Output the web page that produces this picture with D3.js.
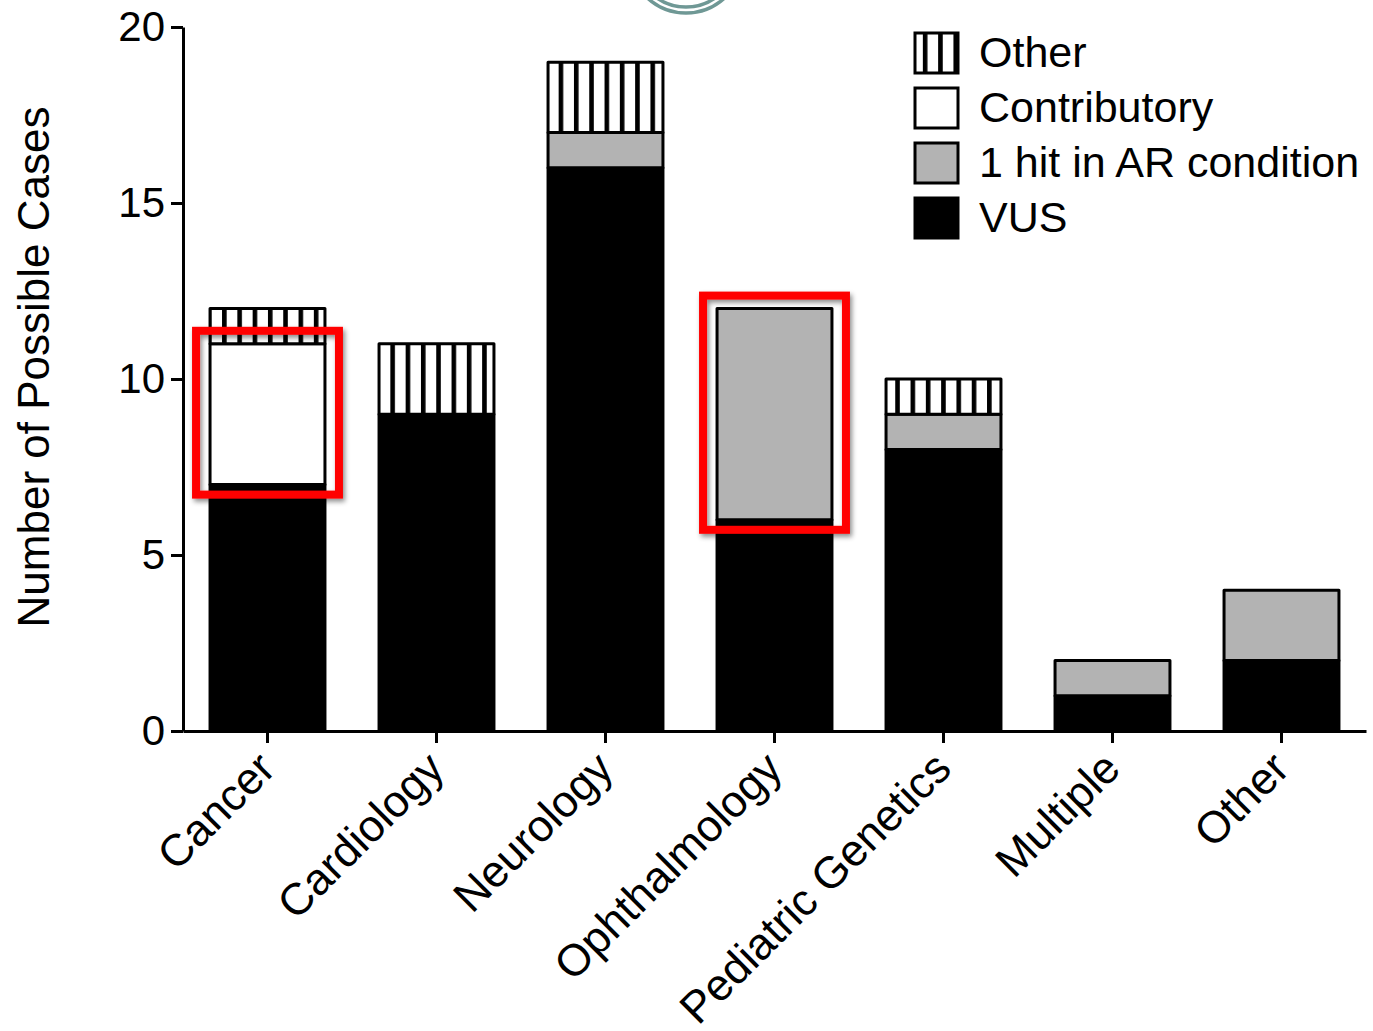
<!DOCTYPE html>
<html>
<head>
<meta charset="utf-8">
<script src="https://cdn.jsdelivr.net/npm/d3@7"></script>
<style>
  body { margin: 0; background: #fff; }
  svg { display: block; font-family: "Liberation Sans", Arial, Helvetica, sans-serif; }
</style>
</head>
<body>
<svg id="chart" width="1373" height="1031"></svg>
<script>
var categories = ["Cancer", "Cardiology", "Neurology", "Ophthalmology", "Pediatric Genetics", "Multiple", "Other"];
var vus = [7, 9, 16, 6, 8, 1, 2];
var arHit = [0, 0, 1, 6, 1, 1, 2];
var contributory = [4, 0, 0, 0, 0, 0, 0];
var other = [1, 2, 2, 0, 1, 0, 0];

var seriesKeys = ["vus", "arHit", "contributory", "other"];
var legendLabels = ["Other", "Contributory", "1 hit in AR condition", "VUS"];
var legendKeys = ["other", "contributory", "arHit", "vus"];
var yTicks = [0, 5, 10, 15, 20];

// red annotation boxes: category and the stacked range they enclose
var highlights = [
    {category: "Cancer", from: 7, to: 11},
    {category: "Ophthalmology", from: 6, to: 12}
];

var FONT = 43;

var svg = d3.select("#chart");

var rows = categories.map(function(c, i) {
    return {category: c, vus: vus[i], arHit: arHit[i], contributory: contributory[i], other: other[i]};
});

var x = d3.scaleBand()
    .domain(categories)
    .range([183, 1366])
    .paddingInner(0.32)
    .paddingOuter(0.16);

var y = d3.scaleLinear()
    .domain([0, 20])
    .range([731, 27]);

var fills = {
    vus: "#000",
    arHit: "#b3b3b3",
    contributory: "#fff",
    other: "url(#hatch)"
};

var defs = svg.append("defs");

// vertical hatch for "Other"
var pat = defs.append("pattern")
    .attr("id", "hatch")
    .attr("patternUnits", "userSpaceOnUse")
    .attr("x", x(categories[0]) + 12)
    .attr("y", 0)
    .attr("width", 15.3)
    .attr("height", 20);
pat.append("rect").attr("width", 15.3).attr("height", 20).attr("fill", "#fff");
pat.append("rect").attr("width", 4.6).attr("height", 20).attr("fill", "#000");

var shadow = defs.append("filter")
    .attr("id", "shadow")
    .attr("x", "-10%").attr("y", "-10%")
    .attr("width", "130%").attr("height", "130%");
shadow.append("feDropShadow")
    .attr("dx", 2).attr("dy", 3)
    .attr("stdDeviation", 2.5)
    .attr("flood-color", "#000")
    .attr("flood-opacity", 0.45);

// logo remnant at the top
var logo = svg.append("g").attr("fill", "none").attr("stroke", "#6f9895").attr("stroke-width", 3.5);
logo.append("circle").attr("cx", 686).attr("cy", -44).attr("r", 57);
logo.append("circle").attr("cx", 686).attr("cy", -44).attr("r", 51);

var stacked = d3.stack().keys(seriesKeys)(rows);

svg.append("g")
    .selectAll("g")
    .data(stacked)
    .join("g")
    .attr("fill", function(s) { return fills[s.key]; })
    .selectAll("rect")
    .data(function(s) { return s.filter(function(d) { return d[1] > d[0]; }); })
    .join("rect")
    .attr("x", function(d) { return x(d.data.category); })
    .attr("y", function(d) { return y(d[1]); })
    .attr("width", x.bandwidth())
    .attr("height", function(d) { return y(d[0]) - y(d[1]); })
    .attr("stroke", "#000")
    .attr("stroke-width", 3)
    .attr("stroke-linejoin", "round");

// axes
var yAxis = svg.append("g")
    .attr("transform", "translate(183,0)")
    .call(d3.axisLeft(y).tickValues(yTicks).tickSize(12).tickSizeOuter(0).tickPadding(6));

var xAxis = svg.append("g")
    .attr("transform", "translate(0,731)")
    .call(d3.axisBottom(x).tickSize(12).tickSizeOuter(0).tickFormat(""));

svg.selectAll(".domain, .tick line")
    .attr("stroke", "#000")
    .attr("stroke-width", 3);

yAxis.selectAll("text")
    .attr("font-size", 42)
    .attr("fill", "#000");
yAxis.attr("font-family", null);
xAxis.attr("font-family", null);

// rotated category labels
svg.append("g")
    .selectAll("text")
    .data(categories)
    .join("text")
    .attr("transform", function(c) {
        return "translate(" + (x(c) + x.bandwidth() / 2 - 1) + ",760) rotate(-45)";
    })
    .attr("text-anchor", "end")
    .attr("dy", "0.35em")
    .attr("font-size", 44.5)
    .text(function(c) { return c; });

// y axis title
svg.append("text")
    .attr("transform", "translate(49,367) rotate(-90)")
    .attr("text-anchor", "middle")
    .attr("font-size", 44)
    .text("Number of Possible Cases");

// highlight boxes
svg.append("g")
    .selectAll("rect")
    .data(highlights)
    .join("rect")
    .attr("x", function(d) { return x(d.category) - 14; })
    .attr("y", function(d) { return y(d.to) - 13; })
    .attr("width", x.bandwidth() + 28)
    .attr("height", function(d) { return y(d.from) - y(d.to) + 23; })
    .attr("fill", "none")
    .attr("stroke", "#ff0000")
    .attr("stroke-width", 8)
    .attr("filter", "url(#shadow)");

// legend
var legend = svg.append("g")
    .selectAll("g")
    .data(legendKeys)
    .join("g")
    .attr("transform", function(k, i) { return "translate(915," + (33 + i * 55) + ")"; });

legend.append("rect")
    .attr("width", 43)
    .attr("height", 40)
    .attr("fill", function(k) { return fills[k]; })
    .attr("stroke", "#000")
    .attr("stroke-width", 3);

legend.append("text")
    .attr("x", 64)
    .attr("y", 34)
    .attr("font-size", FONT)
    .text(function(k, i) { return legendLabels[i]; });
</script>
</body>
</html>
